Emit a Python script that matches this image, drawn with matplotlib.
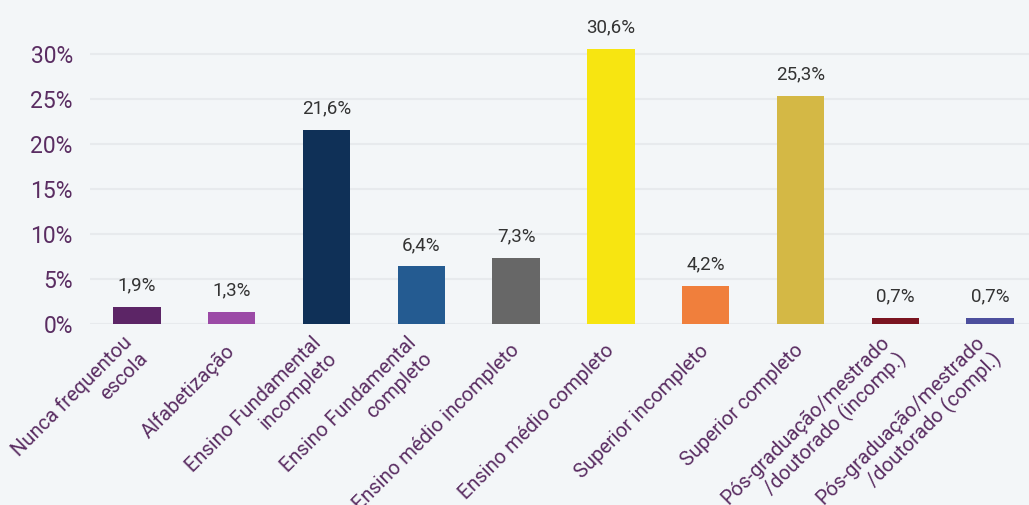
import matplotlib.pyplot as plt

categories = ['Nunca frequentou\nescola', 'Alfabetização',
              'Ensino Fundamental\nincompleto', 'Ensino Fundamental\ncompleto',
              'Ensino médio incompleto', 'Ensino médio completo',
              'Superior incompleto', 'Superior completo',
              'Pós-graduação/mestrado\n/doutorado (incomp.)',
              'Pós-graduação/mestrado\n/doutorado (compl.)']
values = [1.9, 1.3, 21.6, 6.4, 7.3, 30.6, 4.2, 25.3, 0.7, 0.7]
colors = ['#5c2566', '#9b4aa6', '#0f3057', '#245b91', '#676767',
          '#f7e511', '#f07f3c', '#d4b845', '#7a1420', '#4c4f9d']
yticks = [0, 5, 10, 15, 20, 25, 30]

bg = '#f3f6f8'
purple = '#5a2d62'
plt.rcParams['font.family'] = ['Roboto', 'DejaVu Sans']

fig = plt.figure(figsize=(10.29, 5.05), dpi=100, facecolor=bg)
ax = fig.add_axes([89.5 / 1029, 181 / 505, 948 / 1029, 315 / 505])
ax.set_facecolor(bg)

x = range(len(values))
ax.bar(x, values, width=0.5, color=colors, zorder=3)

for xi, v in zip(x, values):
    ax.annotate(('%.1f%%' % v).replace('.', ','), (xi, v), xytext=(0, 9),
                textcoords='offset points', ha='center', va='bottom',
                fontsize=13.5, color='#333333')

ax.set_xlim(-0.5, len(values) - 0.5)
ax.set_ylim(0, 35)
ax.set_yticks(yticks)
ax.set_yticklabels(['%d%%' % t for t in yticks], fontsize=16.5, color=purple)
ax.set_xticks(list(x))
ax.set_xticklabels(categories, rotation=45, ha='right', va='center',
                   rotation_mode='anchor', fontsize=14.5, color=purple,
                   multialignment='right', linespacing=1.2)

for t in yticks:
    ax.axhline(t, color='#e7eaed', lw=1.5, zorder=1)

ax.tick_params(axis='both', length=0)
ax.tick_params(axis='x', pad=17)
ax.tick_params(axis='y', pad=12)
for s in ax.spines.values():
    s.set_visible(False)

fig.savefig('out.png', dpi=100, facecolor=bg)
